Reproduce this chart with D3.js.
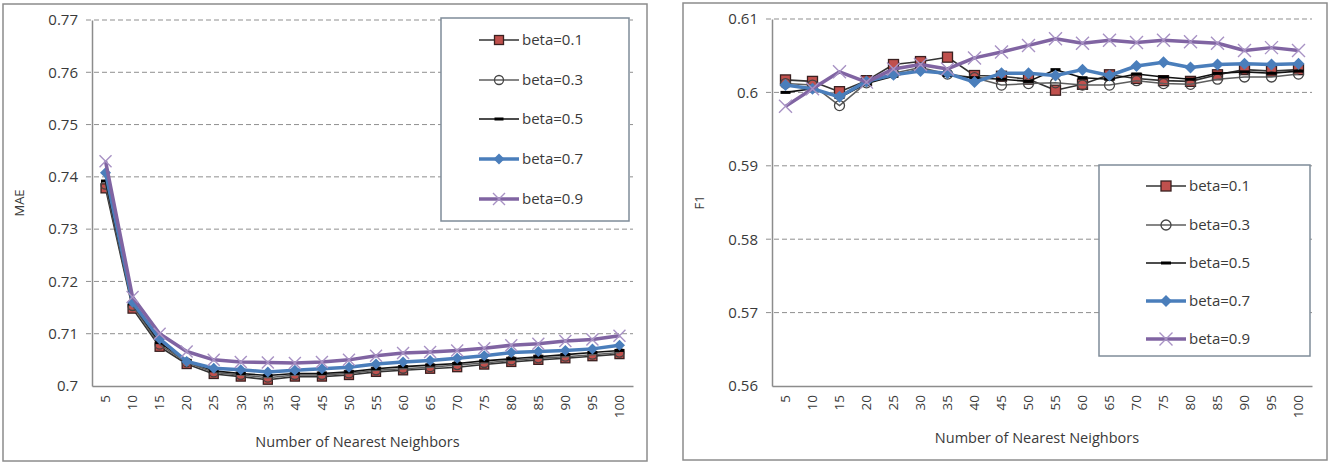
<!DOCTYPE html>
<meta charset="utf-8">
<script src="https://d3js.org/d3.v7.min.js"></script>
<head>
    <title>MAE and F1 vs neighbors</title>
    <style>
        body { margin: 0; background: #fff; }
        text { font-family: "Open Sans", "Liberation Sans", sans-serif; fill: #3a3a3a; }
    </style>
</head>
<body>
    <div id="my_dataviz"></div>
</body>
<script>
    // categories (x axis)
    const neighbors = [5, 10, 15, 20, 25, 30, 35, 40, 45, 50, 55, 60, 65, 70, 75, 80, 85, 90, 95, 100];
    const seriesNames = ["beta=0.1", "beta=0.3", "beta=0.5", "beta=0.7", "beta=0.9"];

    // MAE (left chart)
    const mae01 = [0.7378, 0.7148, 0.7075, 0.7042, 0.7023, 0.7018, 0.7012, 0.7018, 0.7018, 0.7021, 0.7027, 0.7030, 0.7033, 0.7036, 0.7041, 0.7046, 0.7050, 0.7053, 0.7057, 0.7061];
    const mae03 = [0.7385, 0.7153, 0.7079, 0.7045, 0.7026, 0.7021, 0.7016, 0.7021, 0.7021, 0.7024, 0.7030, 0.7033, 0.7036, 0.7040, 0.7044, 0.7049, 0.7053, 0.7056, 0.7060, 0.7064];
    const mae05 = [0.7392, 0.7157, 0.7083, 0.7048, 0.7029, 0.7024, 0.7020, 0.7024, 0.7024, 0.7027, 0.7033, 0.7037, 0.7040, 0.7043, 0.7048, 0.7052, 0.7056, 0.7060, 0.7064, 0.7068];
    const mae07 = [0.7408, 0.7160, 0.7090, 0.7047, 0.7034, 0.7031, 0.7027, 0.7030, 0.7033, 0.7036, 0.7042, 0.7046, 0.7049, 0.7053, 0.7058, 0.7064, 0.7066, 0.7068, 0.7071, 0.7078];
    const mae09 = [0.7430, 0.7170, 0.7100, 0.7066, 0.7050, 0.7046, 0.7045, 0.7044, 0.7046, 0.7050, 0.7058, 0.7063, 0.7065, 0.7068, 0.7072, 0.7078, 0.7081, 0.7086, 0.7089, 0.7096];
    const maeTicks = [0.70, 0.71, 0.72, 0.73, 0.74, 0.75, 0.76, 0.77];

    // F1 (right chart)
    const f101 = [0.6017, 0.6015, 0.6001, 0.6016, 0.6038, 0.6042, 0.6048, 0.6023, 0.6022, 0.6018, 0.6003, 0.6011, 0.6024, 0.6019, 0.6016, 0.6015, 0.6024, 0.6031, 0.6029, 0.6031];
    const f103 = [0.6012, 0.6010, 0.5982, 0.6013, 0.6026, 0.6034, 0.6025, 0.6020, 0.6010, 0.6012, 0.6013, 0.6010, 0.6010, 0.6016, 0.6012, 0.6011, 0.6018, 0.6021, 0.6021, 0.6025];
    const f105 = [0.6000, 0.6005, 0.5993, 0.6012, 0.6022, 0.6032, 0.6023, 0.6020, 0.6018, 0.6015, 0.6031, 0.6020, 0.6018, 0.6025, 0.6021, 0.6018, 0.6026, 0.6028, 0.6026, 0.6029];
    const f107 = [0.6010, 0.6005, 0.5994, 0.6015, 0.6024, 0.6029, 0.6026, 0.6014, 0.6026, 0.6026, 0.6023, 0.6031, 0.6023, 0.6036, 0.6041, 0.6034, 0.6038, 0.6039, 0.6038, 0.6039];
    const f109 = [0.5981, 0.6005, 0.6028, 0.6014, 0.6032, 0.6038, 0.6032, 0.6047, 0.6055, 0.6064, 0.6073, 0.6067, 0.6071, 0.6068, 0.6071, 0.6069, 0.6067, 0.6057, 0.6061, 0.6057];
    const f1Ticks = [0.56, 0.57, 0.58, 0.59, 0.60, 0.61];

    // style per series (index matches seriesNames)
    const styles = [
        {line: "#333", width: 1.6, marker: "square", fill: "#c0504d", stroke: "#3a2020"},
        {line: "#5e5e5e", width: 1.5, marker: "circle", fill: "none", stroke: "#444"},
        {line: "#111", width: 1.6, marker: "dash", fill: "#000", stroke: "#000"},
        {line: "#4a7ebb", width: 3.5, marker: "diamond", fill: "#4a7ebb", stroke: "#4a7ebb"},
        {line: "#8064a2", width: 3.5, marker: "cross", fill: "none", stroke: "#a892c4"}
    ];

    const svg = d3.select("#my_dataviz")
        .append("svg")
        .attr("width", 1338)
        .attr("height", 466);

    const fmt = d => String(+d.toFixed(2));

    const drawMarker = (g, type, x, y, s, st) => {
        if (type === "square") {
            g.append("rect").attr("x", x - s / 2).attr("y", y - s / 2)
                .attr("width", s).attr("height", s)
                .attr("fill", st.fill).attr("stroke", st.stroke).attr("stroke-width", 1.3);
        } else if (type === "circle") {
            g.append("circle").attr("cx", x).attr("cy", y).attr("r", s / 2)
                .attr("fill", "none").attr("stroke", st.stroke).attr("stroke-width", 1.3);
        } else if (type === "dash") {
            g.append("rect").attr("x", x - s / 2).attr("y", y - 1.5)
                .attr("width", s).attr("height", 3).attr("fill", st.fill);
        } else if (type === "diamond") {
            const r = s / 2 + 1;
            g.append("path").attr("d", `M${x},${y - r}L${x + r},${y}L${x},${y + r}L${x - r},${y}Z`)
                .attr("fill", st.fill);
        } else if (type === "cross") {
            const r = s / 2 + 1.5;
            g.append("path").attr("d", `M${x - r},${y - r}L${x + r},${y + r}M${x - r},${y + r}L${x + r},${y - r}`)
                .attr("stroke", st.stroke).attr("stroke-width", 1.4).attr("fill", "none");
        }
    };

    const drawChart = (cfg) => {
        const g = svg.append("g");

        // outer frame
        g.append("rect")
            .attr("x", cfg.frame[0]).attr("y", cfg.frame[1])
            .attr("width", cfg.frame[2]).attr("height", cfg.frame[3])
            .attr("fill", "#fff").attr("stroke", "#8c8c8c").attr("stroke-width", 1.5);

        const x = d3.scaleBand().domain(neighbors).range([cfg.left, cfg.right]);
        const y = d3.scaleLinear().domain([cfg.ticks[0], cfg.ticks[cfg.ticks.length - 1]])
            .range([cfg.bottom, cfg.top]);

        // gridlines
        g.append("g").selectAll("line")
            .data(cfg.ticks.slice(1))
            .join("line")
            .attr("x1", cfg.left - 6).attr("x2", cfg.right)
            .attr("y1", d => y(d)).attr("y2", d => y(d))
            .attr("stroke", "#8f8f8f").attr("stroke-dasharray", "5,3").attr("stroke-width", 1);

        // y axis
        const ya = g.append("g")
            .attr("transform", `translate(${cfg.left},0)`)
            .call(d3.axisLeft(y).tickValues(cfg.ticks).tickFormat(fmt).tickSize(0).tickPadding(14));
        ya.select(".domain").attr("stroke", "#8c8c8c").attr("stroke-width", 1.5);
        ya.selectAll("text").style("font-size", "15px").attr("fill", "#3a3a3a");

        // x axis
        const xa = g.append("g")
            .attr("transform", `translate(0,${cfg.bottom})`)
            .call(d3.axisBottom(x).tickSize(0).tickSizeOuter(0));
        xa.select(".domain").attr("stroke", "#8c8c8c").attr("stroke-width", 1.5);
        xa.selectAll("text")
            .style("font-size", "13.5px")
            .attr("fill", "#3a3a3a")
            .attr("transform", "rotate(-90)")
            .attr("text-anchor", "end")
            .attr("dy", "0.35em")
            .attr("x", -9)
            .attr("y", 0);

        // axis titles
        g.append("text")
            .attr("x", (cfg.left + cfg.right) / 2 - 5)
            .attr("y", cfg.bottom + cfg.xtitleDy)
            .attr("text-anchor", "middle")
            .style("font-size", "14.5px")
            .text("Number  of Nearest Neighbors");
        g.append("text")
            .attr("transform", `translate(${cfg.ylabX},${(cfg.top + cfg.bottom) / 2}) rotate(-90)`)
            .attr("text-anchor", "middle")
            .style("font-size", "13px")
            .text(cfg.ylabel);

        // series
        const line = d3.line().x((d, i) => x(neighbors[i]) + x.bandwidth() / 2).y(d => y(d));
        cfg.series.forEach((vals, k) => {
            const st = styles[k];
            const sg = g.append("g");
            sg.append("path").datum(vals)
                .attr("d", line)
                .attr("fill", "none")
                .attr("stroke", st.line)
                .attr("stroke-width", st.width)
                .attr("stroke-linejoin", "round");
            vals.forEach((v, i) => {
                drawMarker(sg, st.marker, x(neighbors[i]) + x.bandwidth() / 2, y(v), cfg.msize, st);
            });
        });

        // legend
        const lg = g.append("g");
        lg.append("rect")
            .attr("x", cfg.legend[0]).attr("y", cfg.legend[1])
            .attr("width", cfg.legend[2]).attr("height", cfg.legend[3])
            .attr("fill", "#fff").attr("stroke", "#7f8c99").attr("stroke-width", 1.5);
        seriesNames.forEach((name, k) => {
            const st = styles[k];
            const ly = cfg.legendY[k];
            lg.append("line")
                .attr("x1", cfg.legendX).attr("x2", cfg.legendX + 40)
                .attr("y1", ly).attr("y2", ly)
                .attr("stroke", st.line).attr("stroke-width", st.width);
            drawMarker(lg, st.marker, cfg.legendX + 20, ly, cfg.msize, st);
            lg.append("text")
                .attr("x", cfg.legendX + 43)
                .attr("y", ly)
                .attr("dy", "0.35em")
                .style("font-size", "15px")
                .text(name);
        });
    };

    drawChart({
        frame: [3, 4, 644, 457],
        left: 92, right: 633, top: 20, bottom: 386,
        ticks: maeTicks, ylabel: "MAE", ylabX: 24, xtitleDy: 61,
        series: [mae01, mae03, mae05, mae07, mae09],
        msize: 9,
        legend: [441, 18, 188, 203], legendX: 479,
        legendY: [40, 80, 119, 159, 199]
    });

    drawChart({
        frame: [683, 3, 644, 457],
        left: 772, right: 1312, top: 19, bottom: 386,
        ticks: f1Ticks, ylabel: "F1", ylabX: 704, xtitleDy: 57,
        series: [f101, f103, f105, f107, f109],
        msize: 10,
        legend: [1099, 165, 211, 191], legendX: 1146,
        legendY: [186, 225, 263, 301, 339]
    });
</script>
